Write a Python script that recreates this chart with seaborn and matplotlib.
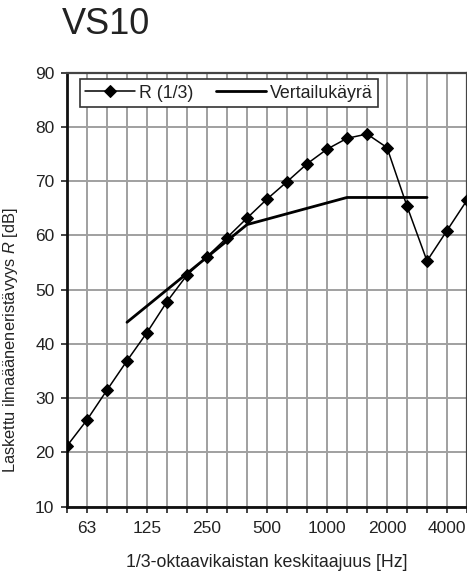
import numpy as np
import pandas as pd
import matplotlib
matplotlib.use("Agg")
import matplotlib.pyplot as plt
import seaborn as sns

# ---- data ----
bands = ["50", "63", "80", "100", "125", "160", "200", "250", "315", "400", "500",
         "630", "800", "1000", "1250", "1600", "2000", "2500", "3150", "4000", "5000"]
r_values = [21.2, 26.0, 31.5, 36.9, 42.1, 47.8, 52.7, 56.1, 59.6, 63.2, 66.7,
            69.9, 73.2, 75.9, 77.9, 78.7, 76.2, 65.4, 55.3, 60.9, 66.5]
ref_bands = ["100", "125", "160", "200", "250", "315", "400", "500",
             "630", "800", "1000", "1250", "1600", "2000", "2500", "3150"]
ref_values = [44, 47, 50, 53, 56, 59, 62, 63, 64, 65, 66, 67, 67, 67, 67, 67]
tick_labels_shown = ["63", "125", "250", "500", "1000", "2000", "4000"]
title = "VS10"
xlabel = "1/3-oktaavikaistan keskitaajuus [Hz]"
ylabel = "Laskettu ilmaääneneristävyys $\\mathit{R}$ [dB]"
series_names = ["R (1/3)", "Vertailukäyrä"]

sns.set_style("white")
plt.rcParams['font.family'] = ['Liberation Sans', 'DejaVu Sans']
plt.rcParams['mathtext.fontset'] = 'custom'
plt.rcParams['mathtext.it'] = 'Liberation Sans:italic'
plt.rcParams['mathtext.rm'] = 'Liberation Sans'

idx = {b: i for i, b in enumerate(bands)}
df_r = pd.DataFrame({"x": [idx[b] for b in bands], "y": r_values})
df_ref = pd.DataFrame({"x": [idx[b] for b in ref_bands], "y": ref_values})

fig = plt.figure(figsize=(4.67, 5.75), dpi=100)
ax = fig.add_axes([67 / 467, 68.3 / 575, 400 / 467, 434 / 575])

text_color = "#222222"
grid_color = "#a0a0a0"

sns.lineplot(data=df_r, x="x", y="y", ax=ax, color="black", lw=1.1,
             marker="D", markersize=6.5, markeredgecolor="black",
             label=series_names[0], zorder=4)
sns.lineplot(data=df_ref, x="x", y="y", ax=ax, color="black", lw=2.0,
             label=series_names[1], zorder=3)

ax.set_xlim(0, len(bands) - 1)
ax.set_ylim(10, 90)
ax.set_xticks(range(len(bands)))
ax.set_xticklabels([b if b in tick_labels_shown else "" for b in bands])
ax.set_yticks(range(10, 91, 10))

ax.grid(True, color=grid_color, lw=1.4)
ax.set_axisbelow(True)

for side in ["left", "bottom"]:
    ax.spines[side].set_color("#111111")
    ax.spines[side].set_linewidth(2.0)
for side in ["top", "right"]:
    ax.spines[side].set_color("#444444")
    ax.spines[side].set_linewidth(1.6)

ax.tick_params(axis="both", direction="out", length=4, width=1.2, color="#222222",
               labelsize=12.5, labelcolor=text_color, pad=5, bottom=True, left=True)
ax.tick_params(axis="x", pad=6)

ax.set_xlabel(xlabel, fontsize=12.8, color=text_color, labelpad=13)
ax.set_ylabel(ylabel, fontsize=11.8, color=text_color)
ax.yaxis.set_label_coords(-0.1175, 0.384)

leg = ax.legend(loc="upper left", ncol=2, bbox_to_anchor=(0.0325, 0.985),
                borderaxespad=0.0,
                frameon=True, fancybox=False, fontsize=12.8, handlelength=2.8,
                borderpad=0.3, columnspacing=1.3, handletextpad=0.2,
                labelcolor=text_color)
leg.get_frame().set_edgecolor("#333333")
leg.get_frame().set_linewidth(1.2)
leg.get_frame().set_facecolor("white")
leg.get_frame().set_alpha(1)

fig.text(62 / 467, 1 - 7 / 575, title, fontsize=26, color=text_color,
         ha="left", va="top")

fig.savefig("out.png", dpi=100)
